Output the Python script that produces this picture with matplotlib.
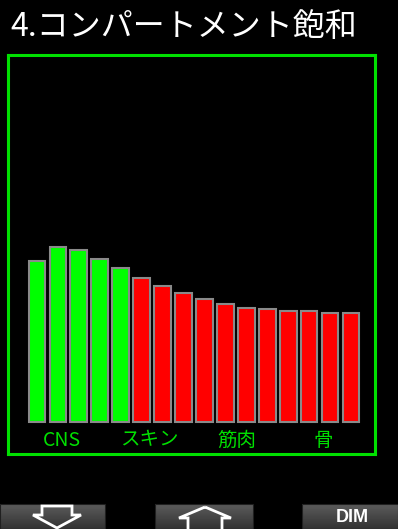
import numpy as np
import matplotlib.pyplot as plt
from matplotlib.patches import Rectangle, Polygon

plt.rcParams['font.family'] = ['Noto Sans CJK JP', 'DejaVu Sans']

# Data
title = '4.コンパートメント飽和'
saturation = [161, 175, 172, 163, 154, 144, 136, 129, 123, 118, 114, 113, 111, 111, 109, 109]
n_green = 5  # first compartments drawn green
group_labels = ['CNS', 'スキン', '筋肉', '骨']
group_pos = [1.19, 5.35, 9.56, 13.67]
buttons = ['down', 'up', 'DIM']

W, H = 398, 529
fig = plt.figure(figsize=(W / 100, H / 100), dpi=100, facecolor='black')

# main chart frame
x0, x1, y0, y1 = 8, 375, 55, 454
ax = fig.add_axes([x0 / W, 1 - y1 / H, (x1 - x0) / W, (y1 - y0) / H])
ax.set_facecolor('black')
for s in ax.spines.values():
    s.set_color('#00e000')
    s.set_linewidth(2.2)
ax.set_xticks([])
ax.set_yticks([])

step = 20.93
ax.set_xlim((x0 - 37) / step, (x1 - 37) / step)
ax.set_ylim(-(y1 - 422), 422 - y0)

colors = ['#00ff00' if i < n_green else '#ff0000' for i in range(len(saturation))]
ax.bar(np.arange(len(saturation)), saturation, width=0.8, color=colors,
       edgecolor='#8a8a8a', linewidth=1.5)

for lab, xp in zip(group_labels, group_pos):
    ax.text(xp, -18, lab, color='#00e000', fontsize=14, ha='center', va='center')

fig.text(10 / W, 1 - 27 / H, title, color='white', fontsize=23, ha='left', va='center')

# bottom buttons
bx = fig.add_axes([0, 0, 1, 1], zorder=-1)
bx.set_xlim(0, W)
bx.set_ylim(H, 0)
bx.axis('off')
bx.patch.set_alpha(0)

grad = np.linspace(0.36, 0.2, 30).reshape(-1, 1)
btn_spans = [(0, 105), (155, 253), (302, 398)]
for (a, b), kind in zip(btn_spans, buttons):
    bx.imshow(grad, cmap='gray', vmin=0, vmax=1, extent=[a, b, H, 504],
              aspect='auto', interpolation='bilinear')
    bx.add_patch(Rectangle((a, 504), b - a, H - 504, fill=False, edgecolor='#202020', lw=0.8))
    if kind == 'down':
        pts = [(42, 506), (72, 506), (72, 515), (81, 515), (57, 528), (33, 515), (42, 515)]
        bx.add_patch(Polygon(pts, closed=True, fill=False, edgecolor='white', lw=2))
    elif kind == 'up':
        pts = [(205, 507), (231, 518), (222, 518), (222, 531), (188, 531), (188, 518), (179, 518)]
        bx.add_patch(Polygon(pts, closed=True, fill=False, edgecolor='white', lw=2))
    else:
        bx.text((a + b) / 2 + 2, 518, kind, color='white', fontsize=13, fontweight='bold',
                family='Liberation Sans', ha='center', va='center')
bx.set_xlim(0, W)
bx.set_ylim(H, 0)

fig.savefig('out.png', dpi=100, facecolor='black')
